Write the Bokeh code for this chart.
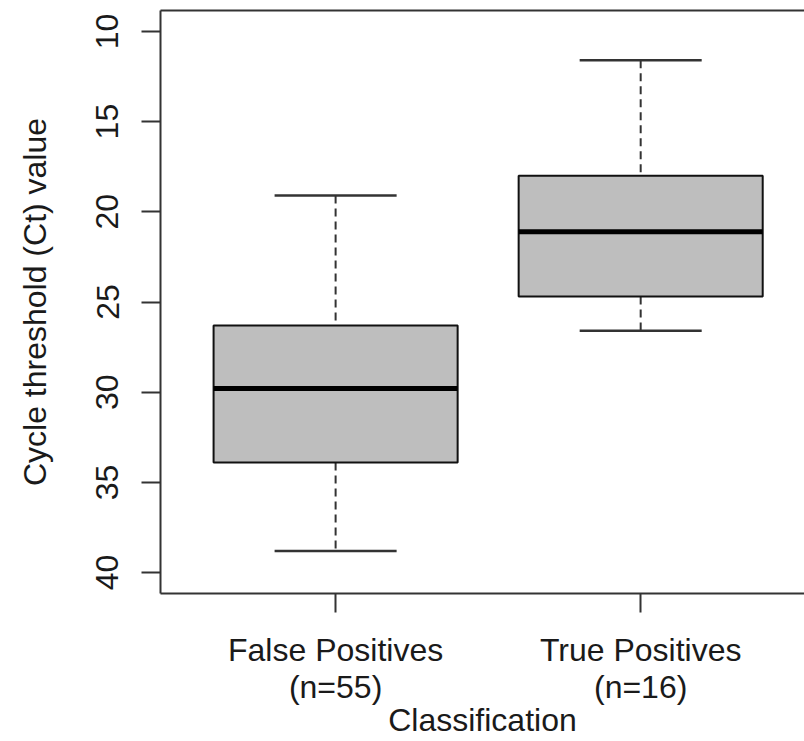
from bokeh.plotting import figure
from bokeh.models import Range1d, FixedTicker, LinearAxis
from bokeh.embed import file_html
from bokeh.resources import INLINE

# ---- data ----
categories = ["False Positives\n(n=55)", "True Positives\n(n=16)"]
positions = [1, 2]
whisker_low = [19.1, 11.6]    # smallest Ct (drawn at top, axis reversed)
q1 = [26.3, 18.0]
median = [29.8, 21.1]
q3 = [33.9, 24.7]
whisker_high = [38.8, 26.6]   # largest Ct
y_ticks = [10, 15, 20, 25, 30, 35, 40]

FONT = "Liberation Sans"
FS = "32px"

box_width = 0.8
cap_width = 0.4

p = figure(width=804, height=741, output_backend="svg", toolbar_location=None,
           x_range=Range1d(0.426, 2.537), y_range=Range1d(41.16, 8.84),
           min_border_left=160, min_border_top=10, min_border_right=0,
           min_border_bottom=147, x_axis_location=None, y_axis_location=None)
p.outline_line_color = None
p.xgrid.visible = False
p.ygrid.visible = False
p.background_fill_color = "white"
p.border_fill_color = "white"

# axes
yax = LinearAxis(ticker=FixedTicker(ticks=y_ticks), axis_label="Cycle threshold (Ct) value")
xax = LinearAxis(ticker=FixedTicker(ticks=positions), axis_label="Classification",
                 major_label_overrides={pos: lab for pos, lab in zip(positions, categories)})
top = LinearAxis(ticker=FixedTicker(ticks=[]))
top.major_label_text_font_size = "0px"
top.major_tick_line_color = None
top.minor_tick_line_color = None
top.axis_line_color = "#333333"
top.axis_line_width = 2

for ax in (yax, xax):
    ax.axis_line_color = "#333333"
    ax.axis_line_width = 2
    ax.major_tick_line_color = "#333333"
    ax.major_tick_line_width = 2
    ax.major_tick_out = 19
    ax.major_tick_in = 0
    ax.minor_tick_line_color = None
    ax.major_label_text_font = FONT
    ax.major_label_text_font_size = FS
    ax.major_label_text_color = "#1a1a1a"
    ax.axis_label_text_font = FONT
    ax.axis_label_text_font_size = FS
    ax.axis_label_text_font_style = "normal"
    ax.axis_label_text_color = "#1a1a1a"

yax.major_label_orientation = "vertical"
yax.major_label_standoff = 23
yax.axis_label_standoff = 41
xax.major_label_standoff = 19
xax.major_label_text_line_height = 1.05
xax.axis_label_standoff = -6

p.add_layout(yax, "left")
p.add_layout(xax, "below")
p.add_layout(top, "above")

# whiskers (dashed)
p.segment(x0=positions, y0=whisker_low, x1=positions, y1=q1,
          line_color="#333333", line_width=2, line_dash="8 5")
p.segment(x0=positions, y0=q3, x1=positions, y1=whisker_high,
          line_color="#333333", line_width=2, line_dash="8 5")
# caps
p.segment(x0=[x - cap_width / 2 for x in positions], y0=whisker_low,
          x1=[x + cap_width / 2 for x in positions], y1=whisker_low,
          line_color="#333333", line_width=2.5)
p.segment(x0=[x - cap_width / 2 for x in positions], y0=whisker_high,
          x1=[x + cap_width / 2 for x in positions], y1=whisker_high,
          line_color="#333333", line_width=2.5)
# boxes
p.vbar(x=positions, width=box_width, top=q1, bottom=q3,
       fill_color="#BEBEBE", line_color="#111111", line_width=2)
# medians
p.segment(x0=[x - box_width / 2 for x in positions], y0=median,
          x1=[x + box_width / 2 for x in positions], y1=median,
          line_color="black", line_width=5)

open("out.html", "w").write(file_html(p, INLINE))
